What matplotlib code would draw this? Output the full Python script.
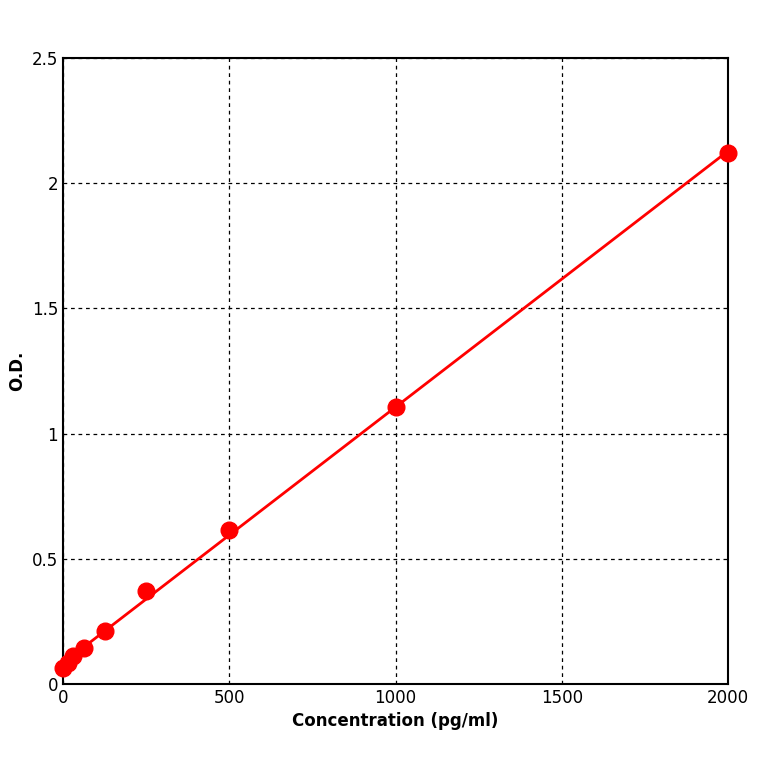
import numpy as np
import matplotlib
matplotlib.use("Agg")
import matplotlib.pyplot as plt

conc = [0, 15.6, 31.25, 62.5, 125, 250, 500, 1000, 2000]
od = [0.064, 0.085, 0.11, 0.145, 0.21, 0.37, 0.615, 1.105, 2.12]

fig = plt.figure(figsize=(7.64, 7.64), dpi=100)
ax = fig.add_axes([63 / 764, 1 - 684 / 764, 665 / 764, 626 / 764])

coef = np.polyfit(conc, od, 1)
xs = np.array([0, 2000])
ax.plot(xs, np.polyval(coef, xs), color="red", lw=2, zorder=3)
ax.plot(conc, od, "o", color="red", ms=12, zorder=4, clip_on=False)

ax.set_xlim(0, 2000)
ax.set_ylim(0, 2.5)
ax.set_xticks([0, 500, 1000, 1500, 2000])
ax.set_yticks([0, 0.5, 1, 1.5, 2, 2.5])
ax.set_yticklabels(["0", "0.5", "1", "1.5", "2", "2.5"])
ax.grid(True, color="black", linestyle=(0, (3, 3)), lw=0.9)
ax.tick_params(labelsize=12, length=0)
ax.set_xlabel("Concentration (pg/ml)", fontsize=12, fontweight="bold")
ax.set_ylabel("O.D.", fontsize=12, fontweight="bold")
for s in ax.spines.values():
    s.set_linewidth(1.5)

fig.savefig("out.png", dpi=100)
